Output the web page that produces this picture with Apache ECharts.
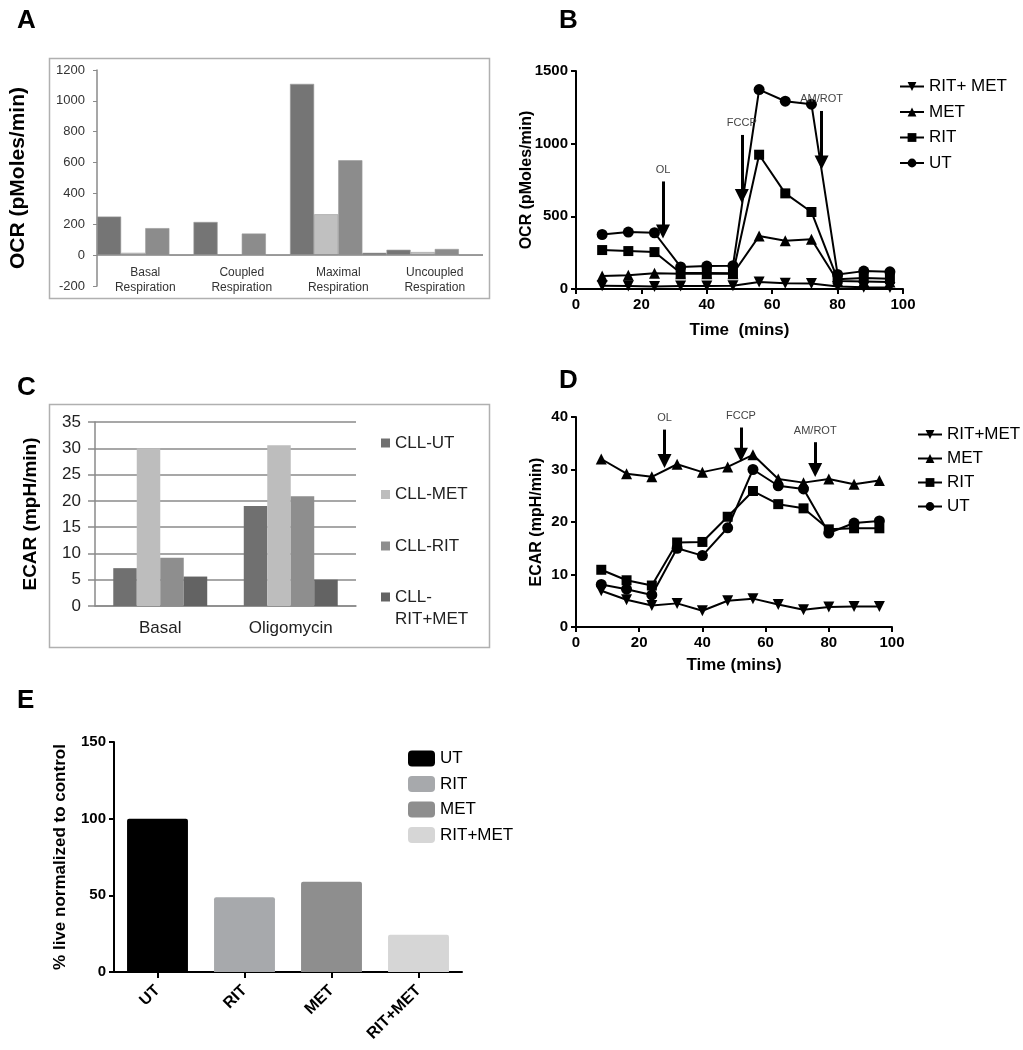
<!DOCTYPE html>
<html>
<head>
<meta charset="utf-8">
<script src="https://cdn.jsdelivr.net/npm/echarts@6/dist/echarts.min.js"></script>
<style>
  body { margin: 0; background: #fff; }
  .panel { position: absolute; }
</style>
</head>
<body>
<div id="panelA" class="panel" style="left:0;top:0;width:510px;height:340px"></div>
<div id="panelB" class="panel" style="left:510px;top:0;width:513px;height:350px"></div>
<div id="panelC" class="panel" style="left:0;top:355px;width:510px;height:320px"></div>
<div id="panelD" class="panel" style="left:510px;top:355px;width:513px;height:320px"></div>
<div id="panelE" class="panel" style="left:0;top:680px;width:520px;height:370px"></div>
<script>
// A - OCR bar chart
var respCats = ['Basal\nRespiration', 'Coupled\nRespiration', 'Maximal\nRespiration', 'Uncoupled\nRespiration'];
var ocrUT = [250, 215, 1110, 35];
var ocrMET = [15, 0, 265, 20];
var ocrRIT = [175, 140, 615, 40];
var ocrRITMET = [0, 0, 15, 0];

// B - OCR time course
var timePts = [8, 16, 24, 32, 40, 48, 56, 64, 72, 80, 88, 96];
var ocrLineUT = [375, 392, 387, 152, 158, 160, 1372, 1292, 1272, 100, 123, 118];
var ocrLineRIT = [268, 261, 254, 110, 110, 108, 924, 658, 530, 67, 75, 70];
var ocrLineMET = [89, 94, 108, 105, 105, 105, 364, 332, 342, 55, 52, 48];
var ocrLineRITMET = [22, 20, 18, 20, 20, 22, 48, 40, 38, 18, 12, 10];

// C - ECAR bar chart
var ecarCats = ['Basal', 'Oligomycin'];
var ecarUT = [7.2, 19];
var ecarMET = [30, 30.6];
var ecarRIT = [9.2, 20.9];
var ecarRITMET = [5.6, 5.0];

// D - ECAR time course
var ecarLineUT = [8.1, 7.2, 6.1, 15.0, 13.6, 18.9, 30.0, 26.9, 26.3, 17.9, 19.8, 20.2];
var ecarLineRIT = [10.9, 8.9, 7.9, 16.1, 16.2, 21.0, 25.9, 23.4, 22.6, 18.6, 18.8, 18.8];
var ecarLineMET = [32.0, 29.2, 28.6, 31.0, 29.5, 30.5, 32.8, 28.2, 27.5, 28.2, 27.2, 27.9];
var ecarLineRITMET = [6.9, 5.2, 4.1, 4.5, 3.1, 5.0, 5.4, 4.3, 3.3, 3.8, 3.9, 3.9];

// E - viability
var liveCats = ['UT', 'RIT', 'MET', 'RIT+MET'];
var liveVals = [100, 48.8, 58.9, 24.3];
var liveColors = ['#000000', '#a7a9ac', '#8e8e8e', '#d6d6d6'];

var FONT = 'Liberation Sans, Arial, sans-serif';
var barGrays = ['#757575', '#c0c0c0', '#8c8c8c', '#606060'];
var plainNum = function (v) { return String(v); };

function panelTitle(t, left, top) {
    return { text: t, left: left, top: top, textStyle: { fontSize: 26, fontWeight: 'bold', color: '#000', fontFamily: FONT } };
}

function pairs(xs, ys) {
    return xs.map(function (x, i) { return [x, ys[i]]; });
}

// ---------- A ----------
var chartA = echarts.init(document.getElementById('panelA'));
var namesA = ['CLL-UT', 'CLL-MET', 'CLL-RIT', 'CLL-RIT+MET'];
var dataA = [ocrUT, ocrMET, ocrRIT, ocrRITMET];
chartA.setOption({
    animation: false,
    title: panelTitle('A', 12, 3),
    graphic: [{
        type: 'rect', shape: { x: 49.5, y: 58.5, width: 440, height: 240 },
        style: { fill: 'none', stroke: '#b0b0b0', lineWidth: 1.5 }
    }],
    grid: { left: 97, top: 70, width: 386, height: 216, outerBoundsMode: 'none' },
    xAxis: {
        type: 'category', data: respCats,
        axisLine: { show: false, onZero: false },
        axisTick: { show: false },
        axisLabel: { color: '#333', fontSize: 12, fontFamily: FONT, margin: -21, lineHeight: 15, interval: 0 }
    },
    yAxis: {
        type: 'value', min: -200, max: 1200, interval: 200,
        name: 'OCR (pMoles/min)', nameLocation: 'middle', nameGap: 68, nameRotate: 90, nameMoveOverlap: false,
        nameTextStyle: { fontSize: 21, fontWeight: 'bold', color: '#000', fontFamily: FONT },
        axisLine: { show: true, lineStyle: { color: '#8a8a8a', width: 1.5 } },
        axisTick: { show: true, length: 4, lineStyle: { color: '#8a8a8a' } },
        axisLabel: { color: '#333', fontSize: 13, fontFamily: FONT, margin: 12, formatter: plainNum },
        splitLine: { show: false }
    },
    series: namesA.map(function (n, i) {
        var s = {
            name: n, type: 'bar', data: dataA[i], barGap: '0%', barCategoryGap: '0%',
            itemStyle: { color: barGrays[i], borderColor: '#9a9a9a', borderWidth: 0.6 }
        };
        if (i === 0) {
            // zero line of the value axis
            s.markLine = {
                silent: true, symbol: 'none', label: { show: false },
                lineStyle: { color: '#8a8a8a', width: 1.5, type: 'solid' },
                data: [{ yAxis: 0 }]
            };
        }
        return s;
    })
});

// ---------- B ----------
function lineSeries(name, symbol, rotate, xs, ys, extra) {
    var s = {
        name: name, type: 'line', data: pairs(xs, ys),
        symbol: symbol, symbolSize: symbol === 'rect' ? 10 : 11, symbolRotate: rotate,
        showAllSymbol: true,
        lineStyle: { color: '#000', width: 2 },
        itemStyle: { color: '#000' }
    };
    if (extra) { for (var k in extra) s[k] = extra[k]; }
    return s;
}

function arrowMark(list) {
    return {
        silent: true,
        symbol: ['none', 'triangle'],
        symbolSize: 14,
        lineStyle: { color: '#000', width: 3, type: 'solid' },
        label: { show: true, position: 'start', formatter: '{b}', color: '#444', fontSize: 11, fontFamily: FONT, distance: 6 },
        data: list.map(function (a) {
            return [{ name: a[0], coord: [a[1], a[2]] }, { coord: [a[1], a[3]] }];
        })
    };
}

var axisCommonBD = {
    nameMoveOverlap: false,
    axisLine: { lineStyle: { color: '#000', width: 2 } },
    axisTick: { show: true, length: 5, lineStyle: { color: '#000', width: 2 } },
    axisLabel: { color: '#000', fontSize: 15, fontWeight: 'bold', fontFamily: FONT, margin: 8, formatter: plainNum },
    splitLine: { show: false }
};

function legendBD(left, top, gap) {
    return {
        orient: 'vertical', left: left, top: top, itemWidth: 24, itemHeight: 11, itemGap: gap,
        textStyle: { fontSize: 17, color: '#000', fontFamily: FONT },
        selectedMode: false
    };
}

var chartB = echarts.init(document.getElementById('panelB'));
chartB.setOption({
    animation: false,
    title: panelTitle('B', 44, 3),
    legend: legendBD(384, 73, 8.5),
    grid: { left: 66, top: 71, width: 327, height: 218, outerBoundsMode: 'none' },
    xAxis: Object.assign({
        type: 'value', min: 0, max: 100, interval: 20,
        name: 'Time  (mins)', nameLocation: 'middle', nameGap: 33,
        nameTextStyle: { fontSize: 17, fontWeight: 'bold', color: '#000', fontFamily: FONT }
    }, axisCommonBD),
    yAxis: Object.assign({
        type: 'value', min: 0, max: 1500, interval: 500,
        name: 'OCR (pMoles/min)', nameLocation: 'middle', nameGap: 41,
        nameTextStyle: { fontSize: 16, fontWeight: 'bold', color: '#000', fontFamily: FONT }
    }, axisCommonBD),
    series: [
        lineSeries('RIT+ MET', 'triangle', 180, timePts, ocrLineRITMET),
        lineSeries('MET', 'triangle', 0, timePts, ocrLineMET),
        lineSeries('RIT', 'rect', 0, timePts, ocrLineRIT),
        lineSeries('UT', 'circle', 0, timePts, ocrLineUT, {
            markLine: arrowMark([['OL', 26.6, 740, 395], ['FCCP', 50.7, 1060, 640], ['AM/ROT', 75.1, 1225, 870]])
        })
    ]
});

// ---------- C ----------
var chartC = echarts.init(document.getElementById('panelC'));
var namesC = ['CLL-UT', 'CLL-MET', 'CLL-RIT', 'CLL-RIT+MET'];
var dataC = [ecarUT, ecarMET, ecarRIT, ecarRITMET];
var colorsC = ['#707070', '#bdbdbd', '#8e8e8e', '#636363'];
var legendCStyle = { fontSize: 17, color: '#222', fontFamily: FONT, lineHeight: 22 };
chartC.setOption({
    animation: false,
    title: panelTitle('C', 12, 15),
    graphic: [{
        type: 'rect', shape: { x: 49.5, y: 49.5, width: 440, height: 243 },
        style: { fill: 'none', stroke: '#b0b0b0', lineWidth: 1.5 }
    }],
    legend: [{
        data: namesC.slice(0, 3),
        orient: 'vertical', left: 376, top: 72, icon: 'rect', itemWidth: 9, itemHeight: 9, itemGap: 29.5,
        textStyle: legendCStyle, selectedMode: false
    }, {
        // two-line entry; a blank first line keeps the icon level with "CLL-"
        data: namesC.slice(3),
        orient: 'vertical', left: 376, top: 204, icon: 'rect', itemWidth: 9, itemHeight: 9,
        textStyle: legendCStyle,
        formatter: function () { return ' \nCLL-\nRIT+MET'; },
        selectedMode: false
    }],
    grid: { left: 95, top: 67, width: 261, height: 184, outerBoundsMode: 'none' },
    xAxis: {
        type: 'category', data: ecarCats,
        axisLine: { lineStyle: { color: '#8a8a8a', width: 1.5 } },
        axisTick: { show: false },
        axisLabel: { color: '#222', fontSize: 17, fontFamily: FONT, margin: 14 }
    },
    yAxis: {
        type: 'value', min: 0, max: 35, interval: 5,
        name: 'ECAR (mpH/min)', nameLocation: 'middle', nameGap: 55, nameRotate: 90, nameMoveOverlap: false,
        nameTextStyle: { fontSize: 19, fontWeight: 'bold', color: '#000', fontFamily: FONT },
        axisLine: { show: true, lineStyle: { color: '#8a8a8a', width: 1.5 } },
        axisTick: { show: true, length: 7, lineStyle: { color: '#8a8a8a', width: 1.5 } },
        axisLabel: { color: '#222', fontSize: 17, fontFamily: FONT, margin: 14 },
        splitLine: { show: true, lineStyle: { color: '#8a8a8a', width: 1.5 } }
    },
    series: namesC.map(function (n, i) {
        return {
            name: n, type: 'bar', data: dataC[i], barGap: '0%', barCategoryGap: '28%',
            itemStyle: { color: colorsC[i] }
        };
    })
});

// ---------- D ----------
var chartD = echarts.init(document.getElementById('panelD'));
chartD.setOption({
    animation: false,
    title: panelTitle('D', 44, 8),
    legend: legendBD(402, 66, 7),
    grid: { left: 66, top: 62, width: 316, height: 210, outerBoundsMode: 'none' },
    xAxis: Object.assign({
        type: 'value', min: 0, max: 100, interval: 20,
        name: 'Time (mins)', nameLocation: 'middle', nameGap: 30,
        nameTextStyle: { fontSize: 17, fontWeight: 'bold', color: '#000', fontFamily: FONT }
    }, axisCommonBD),
    yAxis: Object.assign({
        type: 'value', min: 0, max: 40, interval: 10,
        name: 'ECAR (mpH/min)', nameLocation: 'middle', nameGap: 31,
        nameTextStyle: { fontSize: 16, fontWeight: 'bold', color: '#000', fontFamily: FONT }
    }, axisCommonBD),
    series: [
        lineSeries('RIT+MET', 'triangle', 180, timePts, ecarLineRITMET),
        lineSeries('MET', 'triangle', 0, timePts, ecarLineMET),
        lineSeries('RIT', 'rect', 0, timePts, ecarLineRIT),
        lineSeries('UT', 'circle', 0, timePts, ecarLineUT, {
            markLine: arrowMark([['OL', 28, 37.6, 31.6], ['FCCP', 52.2, 38, 32.8], ['AM/ROT', 75.7, 35.2, 29.9]])
        })
    ]
});

// ---------- E ----------
var chartE = echarts.init(document.getElementById('panelE'));
chartE.setOption({
    animation: false,
    title: panelTitle('E', 12, 3),
    legend: {
        orient: 'vertical', left: 403, top: 65, icon: 'roundRect', itemWidth: 27, itemHeight: 16, itemGap: 8.5,
        textStyle: { fontSize: 17, color: '#000', fontFamily: FONT },
        selectedMode: false
    },
    grid: { left: 114, top: 62, width: 348, height: 230, outerBoundsMode: 'none' },
    xAxis: {
        type: 'category', data: liveCats,
        axisLine: { lineStyle: { color: '#000', width: 2 } },
        axisTick: { show: true, alignWithLabel: true, length: 6, lineStyle: { color: '#000', width: 2 } },
        axisLabel: { color: '#000', fontSize: 16, fontWeight: 'bold', fontFamily: FONT, rotate: 45, margin: 16, interval: 0 }
    },
    yAxis: {
        type: 'value', min: 0, max: 150, interval: 50,
        name: '% live normalized to control', nameLocation: 'middle', nameGap: 45, nameMoveOverlap: false,
        nameTextStyle: { fontSize: 17, fontWeight: 'bold', color: '#000', fontFamily: FONT },
        axisLine: { show: true, lineStyle: { color: '#000', width: 2 } },
        axisTick: { show: true, length: 5, lineStyle: { color: '#000', width: 2 } },
        axisLabel: { color: '#000', fontSize: 15, fontWeight: 'bold', fontFamily: FONT, margin: 8 },
        splitLine: { show: false }
    },
    series: liveCats.map(function (c, i) {
        return {
            name: c, type: 'bar', stack: 'live', barCategoryGap: '30%',
            data: liveCats.map(function (_, j) { return j === i ? liveVals[i] : null; }),
            itemStyle: { color: liveColors[i], borderRadius: [2, 2, 0, 0] }
        };
    })
});
</script>
</body>
</html>
